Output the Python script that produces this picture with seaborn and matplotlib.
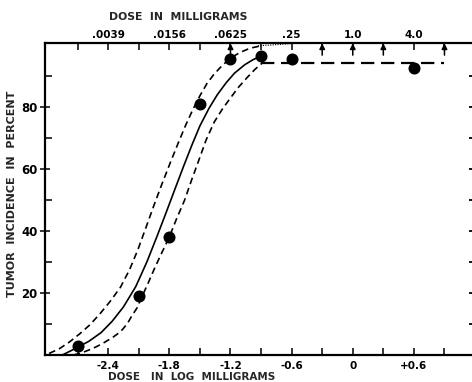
import matplotlib
matplotlib.use("Agg")
import matplotlib.pyplot as plt
import seaborn as sns

# Observed tumor incidence at each log dose
log_dose = [-2.7, -2.1, -1.8, -1.5, -1.2, -0.9, -0.6, 0.6]
incidence = [3.0, 19.0, 38.0, 81.0, 95.5, 96.3, 95.2, 92.5]

# Fitted dose-response curve
fit_x = [-2.85, -2.77, -2.70, -2.59, -2.47, -2.36, -2.25, -2.13, -2.02, -1.92, -1.83,
         -1.75, -1.66, -1.58, -1.50, -1.41, -1.33, -1.24, -1.16, -1.06, -0.98, -0.90]
fit_y = [0.0, 1.3, 2.5, 4.4, 7.2, 10.9, 15.5, 22.0, 30.0, 38.3, 46.0,
         53.0, 60.8, 67.5, 73.8, 79.5, 83.8, 87.8, 90.8, 93.5, 95.1, 96.3]

# Confidence band around the fit
upper_x = [-2.98, -2.88, -2.78, -2.68, -2.58, -2.48, -2.38, -2.28, -2.19, -2.11,
           -2.03, -1.95, -1.87, -1.79, -1.71, -1.64, -1.57, -1.50, -1.43, -1.36,
           -1.28, -1.20, -1.11, -1.01, -0.90]
upper_y = [0.5, 2.0, 4.2, 6.8, 9.7, 13.3, 17.3, 21.8, 27.5, 33.8,
           41.0, 48.3, 55.3, 62.0, 68.5, 74.0, 79.0, 83.5, 87.5, 90.5,
           93.3, 95.6, 97.4, 98.8, 99.6]
lower_x = [-2.74, -2.66, -2.59, -2.52, -2.45, -2.40, -2.35, -2.30, -2.26, -2.21,
           -2.17, -2.12, -2.08, -2.01, -1.94, -1.87, -1.80, -1.73, -1.65, -1.58,
           -1.51, -1.44, -1.36, -1.28, -1.20, -1.12, -1.03, -0.96, -0.89]
lower_y = [0.0, 0.7, 1.6, 2.6, 3.8, 4.8, 5.8, 7.0, 8.2, 10.2,
           12.5, 15.0, 18.0, 23.0, 28.3, 33.2, 38.0, 43.8, 49.9, 56.5,
           62.8, 69.2, 75.0, 79.2, 82.8, 86.3, 89.6, 92.0, 94.0]
tail_x = [-0.93, -0.78, -0.60]
tail_y = [99.6, 99.9, 100.3]

# Plateau level above the saturating dose
plateau_x = [-0.9, 0.9]
plateau_y = [94.0, 94.0]

# Doses marked with an upward arrow (100 % incidence)
arrow_x = [-1.2, -0.3, 0.0, 0.3, 0.9]

bottom_ticks = [-2.4, -1.8, -1.2, -0.6, 0.0, 0.6]
bottom_labels = ["-2.4", "-1.8", "-1.2", "-0.6", "0", "+0.6"]
top_labels = [".0039", ".0156", ".0625", ".25", "1.0", "4.0"]
minor_x = [-2.7, -2.1, -1.5, -0.9, -0.3, 0.3, 0.9]
y_major = [20, 40, 60, 80]
y_minor = [10, 30, 50, 70, 90]

sns.set_style("white")
plt.rcParams["font.family"] = ["DejaVu Sans"]
plt.rcParams["font.weight"] = "bold"

W, H = 472, 382
fig = plt.figure(figsize=(W / 100, H / 100), dpi=100)
ax = fig.add_axes([45 / W, 27 / H, (W - 45) / W, 312 / H])

black = "black"
sns.lineplot(x=fit_x, y=fit_y, sort=False, estimator=None, color=black, lw=1.2, ax=ax)
sns.lineplot(x=upper_x, y=upper_y, sort=False, estimator=None, color=black, lw=1.2,
             linestyle=(0, (4, 2.5)), ax=ax)
sns.lineplot(x=lower_x, y=lower_y, sort=False, estimator=None, color=black, lw=1.2,
             linestyle=(0, (4, 2.5)), ax=ax)
sns.lineplot(x=tail_x, y=tail_y, sort=False, estimator=None, color=black, lw=0.8,
             linestyle=(0, (1, 1.2)), ax=ax)
sns.lineplot(x=plateau_x, y=plateau_y, sort=False, estimator=None, color=black, lw=1.6,
             linestyle=(0, (6, 3)), ax=ax)
sns.scatterplot(x=log_dose, y=incidence, s=75, color=black, edgecolor=black,
                linewidth=0, zorder=5, ax=ax)

for xa in arrow_x:
    ax.annotate("", xy=(xa, 100.4), xytext=(xa, 96.6),
                arrowprops=dict(arrowstyle="-|>", color=black, lw=1.1,
                                mutation_scale=8, shrinkA=0, shrinkB=0))

ax.set_xlim(-3.02, 1.17)
ax.set_ylim(0, 100.5)

for side in ("left", "bottom", "top"):
    ax.spines[side].set_visible(True)
    ax.spines[side].set_linewidth(1.6)
    ax.spines[side].set_color(black)
ax.spines["right"].set_visible(False)

# Bottom axis: log dose
ax.set_xticks(bottom_ticks)
ax.set_xticklabels(bottom_labels, fontsize=7.5, fontweight="bold")
ax.set_xticks(minor_x, minor=True)
ax.tick_params(axis="x", which="both", direction="in", length=5, width=1.1,
               bottom=True, top=False, pad=4, colors=black)

# Left axis: incidence
ax.set_yticks(y_major)
ax.set_yticklabels([str(v) for v in y_major], fontsize=8.5, fontweight="bold")
ax.set_yticks(y_minor, minor=True)
ax.tick_params(axis="y", which="major", direction="inout", length=7, width=1.1,
               left=True, right=False, pad=2, colors=black)
ax.tick_params(axis="y", which="minor", direction="in", length=5, width=1.1,
               left=True, right=False, colors=black)
ax.set_xlabel("")
ax.set_ylabel("")

# Short marks along the right edge
rt = ax.twinx()
rt.set_ylim(ax.get_ylim())
rt.set_yticks(y_major + y_minor)
rt.set_yticklabels([])
rt.tick_params(axis="y", direction="in", length=2.5, width=1.3, right=True,
               left=False, colors=black)
for s in rt.spines.values():
    s.set_visible(False)

# Top axis: dose in milligrams
top = ax.twiny()
top.set_xlim(ax.get_xlim())
top.set_xticks(bottom_ticks)
top.set_xticklabels(top_labels, fontsize=7.5, fontweight="bold")
top.set_xticks(minor_x, minor=True)
top.tick_params(axis="x", which="both", direction="in", length=5, width=1.1,
                top=True, bottom=False, pad=2.5, colors=black)
for s in top.spines.values():
    s.set_visible(False)

fig.text(178 / W, 1 - 17 / H, "DOSE  IN  MILLIGRAMS", ha="center", va="center",
         fontsize=7.8, fontweight="bold")
fig.text(192 / W, 1 - 372 / H, "DOSE   IN  LOG  MILLIGRAMS", ha="center", va="top",
         fontsize=7.5, fontweight="bold")
fig.text(12 / W, 1 - 194 / H, "TUMOR  INCIDENCE  IN  PERCENT", ha="center", va="center",
         rotation=90, fontsize=8, fontweight="bold")

fig.savefig("out.png", dpi=100, facecolor="white")
